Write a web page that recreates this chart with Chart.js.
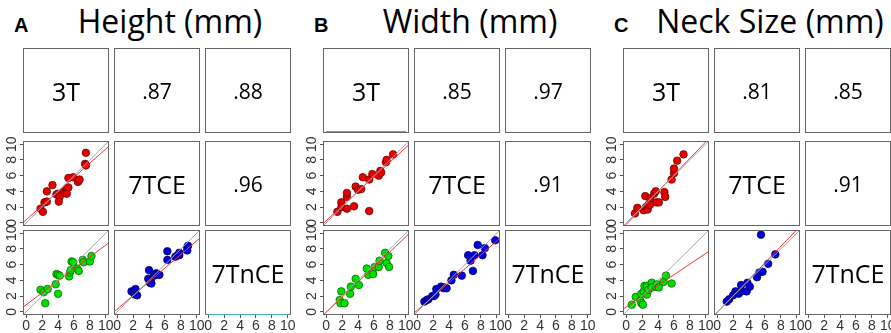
<!DOCTYPE html>
<html>
<head>
<title>Scatter matrices</title>
<script src="https://cdn.jsdelivr.net/npm/chart.js"></script>
<style>
  body { margin: 0; background: #fff; }
  #wrap { position: relative; width: 891px; height: 333px; overflow: hidden; }
  .cell { position: absolute; box-sizing: border-box; border: 1px solid #666;
          display: flex; align-items: center; justify-content: center;
          font-family: 'Open Sans', sans-serif; color: #000; }
  .name { font-size: 25px; }
  .cor { font-size: 21px; }
  .rug { position: absolute; left: 2px; right: 2px; bottom: 0; height: 1px; background: #4fb3ad; }
  .letter { position: absolute; font: bold 20px 'Liberation Sans', Arial, sans-serif; line-height: 20px; }
  .title { position: absolute; font: 32px 'Open Sans', sans-serif; line-height: 32px; white-space: nowrap;
           transform: translateX(-50%); }
  canvas { position: absolute; }
</style>
</head>
<body>
<div id="wrap"></div>
<script>
// panel titles and variable names
var letters = ['A', 'B', 'C'];
var titles = ['Height (mm)', 'Width (mm)', 'Neck Size (mm)'];
var varNames = ['3T', '7TCE', '7TnCE'];
var tickVals = [0, 2, 4, 6, 8, 10];

// correlations: (3T,7TCE), (3T,7TnCE), (7TCE,7TnCE)
var heightCor = ['.87', '.88', '.96'];
var widthCor = ['.85', '.97', '.91'];
var neckCor = ['.81', '.85', '.91'];

// Height: 7TCE vs 3T, 7TnCE vs 3T, 7TnCE vs 7TCE
var heightRedX = [1.8, 2.1, 2.3, 2.6, 2.6, 3.3, 3.8, 4.0, 4.2, 4.1, 4.7, 4.9, 5.1, 5.1, 5.3, 5.3, 5.9, 6.5, 6.7, 7.4, 7.5, 7.5];
var heightRedY = [1.8, 1.4, 2.6, 2.7, 4.0, 4.8, 3.6, 3.7, 3.3, 2.7, 4.0, 3.8, 4.4, 3.7, 4.5, 5.7, 5.8, 5.2, 5.5, 7.5, 7.3, 8.9];
var heightGreenX = [1.8, 2.2, 2.7, 2.4, 3.7, 3.8, 4.0, 4.2, 4.0, 5.4, 5.5, 5.6, 5.7, 5.9, 6.4, 6.6, 7.1, 7.2, 8.0, 8.2];
var heightGreenY = [2.8, 2.5, 2.9, 1.1, 3.5, 4.8, 4.7, 4.6, 2.3, 4.5, 5.0, 5.3, 6.4, 6.3, 5.5, 5.2, 6.6, 6.3, 6.4, 7.1];
var heightBlueX = [1.8, 2.1, 2.3, 2.2, 2.5, 4.0, 3.9, 4.2, 4.1, 4.3, 4.6, 4.9, 4.9, 5.3, 6.3, 6.3, 7.3, 7.6, 7.8, 7.8, 8.8, 8.8, 8.9];
var heightBlueY = [2.6, 2.4, 2.9, 2.2, 2.1, 5.3, 4.2, 4.0, 3.7, 3.6, 4.6, 4.9, 4.7, 4.7, 7.7, 6.6, 7.0, 7.2, 7.5, 7.2, 8.2, 7.8, 8.4];

// Width
var widthRedX = [1.4, 1.9, 1.9, 2.6, 2.6, 2.6, 3.5, 3.7, 4.0, 4.4, 4.6, 5.4, 5.4, 5.8, 6.6, 6.8, 6.9, 7.5, 7.6, 8.4];
var widthRedY = [1.4, 2.6, 2.0, 1.8, 3.3, 3.8, 2.1, 4.6, 4.2, 4.3, 5.8, 1.5, 5.5, 6.2, 6.0, 6.6, 6.4, 7.7, 8.0, 8.7];
var widthGreenX = [1.7, 1.8, 1.9, 2.3, 3.0, 3.1, 3.7, 4.1, 5.1, 5.3, 5.9, 6.1, 6.6, 6.7, 7.4, 7.6, 7.8, 7.9];
var widthGreenY = [1.5, 1.1, 2.6, 1.1, 2.3, 3.2, 4.2, 3.4, 5.5, 4.7, 4.8, 5.7, 5.7, 6.5, 7.5, 6.2, 7.1, 5.7];
var widthBlueX = [0.9, 1.2, 1.4, 1.9, 2.1, 2.3, 2.4, 3.0, 3.3, 3.4, 3.7, 4.3, 4.6, 5.6, 6.4, 6.7, 7.0, 7.2, 7.6, 8.2, 8.5, 9.8];
var widthBlueY = [1.3, 1.5, 1.6, 2.0, 2.0, 2.2, 2.9, 3.2, 3.0, 3.1, 3.0, 4.0, 4.7, 4.6, 7.2, 6.5, 5.2, 7.2, 8.5, 7.2, 8.1, 9.1];

// Neck size
var neckRedX = [1.1, 1.4, 2.2, 2.4, 2.5, 2.7, 2.8, 3.0, 3.0, 3.5, 3.7, 3.8, 4.1, 4.8, 4.9, 5.7, 6.0, 6.0, 6.4, 7.2];
var neckRedY = [1.2, 1.9, 1.6, 3.4, 2.0, 1.7, 2.3, 3.1, 2.3, 3.7, 4.0, 2.6, 2.6, 3.9, 3.3, 5.5, 6.3, 6.9, 7.9, 8.7];
var neckGreenX = [0.7, 1.2, 1.8, 1.9, 2.1, 1.9, 2.2, 2.3, 2.6, 2.6, 2.8, 3.2, 3.2, 3.7, 3.9, 4.1, 4.7, 5.0, 5.7];
var neckGreenY = [0.9, 1.9, 1.4, 1.1, 0.9, 2.3, 2.6, 3.3, 2.2, 3.3, 2.8, 3.7, 3.1, 3.2, 3.5, 3.1, 3.8, 4.6, 3.6];
var neckBlueX = [1.2, 1.5, 2.0, 2.3, 2.7, 3.0, 3.0, 3.7, 3.8, 4.1, 5.0, 5.3, 5.5, 5.7, 6.4, 7.3];
var neckBlueY = [1.3, 1.6, 2.1, 2.6, 2.3, 2.6, 3.4, 2.6, 3.7, 3.2, 4.4, 5.0, 9.8, 5.1, 6.1, 7.3];

// regression lines [intercept, slope], same order as the scatter cells
var heightFit = [[0.39, 0.90], [0.90, 0.76], [0.34, 0.87]];
var widthFit = [[0.27, 0.93], [-0.05, 0.96], [0.20, 0.88]];
var neckFit = [[-0.20, 1.05], [0.63, 0.68], [-0.07, 1.05]];

var panels = [
  { cor: heightCor, fit: heightFit, pts: [[heightRedX, heightRedY], [heightGreenX, heightGreenY], [heightBlueX, heightBlueY]] },
  { cor: widthCor, fit: widthFit, pts: [[widthRedX, widthRedY], [widthGreenX, widthGreenY], [widthBlueX, widthBlueY]] },
  { cor: neckCor, fit: neckFit, pts: [[neckRedX, neckRedY], [neckGreenX, neckGreenY], [neckBlueX, neckBlueY]] }
];

// diagonal cells that show a faint teal strip at the bottom (panel, index)
var rugCells = [[0, 2], [1, 0]];

// layout
var panelX = [0, 300, 600];
var colLeft = [23, 114, 205];
var rowTop = [48, 141, 230];
var boxW = 86, boxH = 85;
var axisL = 22, axisB = 17;
var M = 9; // spare room round each canvas so edge labels are not cut
var lo = -0.4, hi = 10.4;

var colors = [
  { fill: '#e60000', edge: '#5a0000' },
  { fill: '#00e000', edge: '#005a00' },
  { fill: '#0000d8', edge: '#00005a' }
];

var wrap = document.getElementById('wrap');

var boxPlugin = {
  id: 'box',
  afterDraw: function(chart) {
    var a = chart.chartArea, ctx = chart.ctx;
    ctx.save();
    ctx.strokeStyle = '#666';
    ctx.lineWidth = 1;
    ctx.strokeRect(Math.round(a.left) + 0.5, Math.round(a.top) + 0.5,
                   Math.round(a.right - a.left) - 1, Math.round(a.bottom - a.top) - 1);
    ctx.restore();
  }
};

function tickFont() { return { family: "'Liberation Sans', Arial, sans-serif", size: 14 }; }

function fitLine(b, m) {
  return [{ x: lo, y: b + m * lo }, { x: hi, y: b + m * hi }];
}

function noPad(s) {
  s.paddingLeft = 0; s.paddingRight = 0; s.paddingTop = 0; s.paddingBottom = 0;
}

function makeChart(p, r, c, datasets) {
  var L = c === 0 ? axisL : 0, B = r === 2 ? axisB : 0;
  var cv = document.createElement('canvas');
  cv.width = boxW + L + 2 * M; cv.height = boxH + B + 2 * M;
  cv.style.left = (panelX[p] + colLeft[c] - L - M) + 'px';
  cv.style.top = (rowTop[r] - M) + 'px';
  wrap.appendChild(cv);
  new Chart(cv.getContext('2d'), {
    type: 'scatter',
    data: { datasets: datasets },
    options: {
      responsive: false, animation: false, events: [],
      layout: { padding: M, autoPadding: false },
      plugins: { legend: { display: false }, tooltip: { enabled: false } },
      scales: {
        x: {
          type: 'linear', min: lo, max: hi, display: r === 2,
          afterBuildTicks: function(s) { s.ticks = tickVals.map(function(v) { return { value: v }; }); },
          afterFit: function(s) { s.height = B; noPad(s); },
          border: { display: false },
          grid: { drawOnChartArea: false, tickLength: 3, color: '#555' },
          ticks: { autoSkip: false, maxRotation: 0, padding: 0, color: '#333', font: tickFont() }
        },
        y: {
          type: 'linear', min: lo, max: hi, display: c === 0,
          afterBuildTicks: function(s) { s.ticks = tickVals.map(function(v) { return { value: v }; }); },
          afterFit: function(s) { s.width = L; noPad(s); },
          border: { display: false },
          grid: { drawOnChartArea: false, tickLength: 3, color: '#555' },
          ticks: { autoSkip: false, minRotation: 90, maxRotation: 90, crossAlign: 'center', padding: 0,
                   color: '#333', font: tickFont() }
        }
      }
    },
    plugins: [boxPlugin]
  });
}

function textCell(p, r, c, text, cls, border) {
  var d = document.createElement('div');
  d.className = 'cell ' + cls;
  d.style.left = (panelX[p] + colLeft[c]) + 'px';
  d.style.top = rowTop[r] + 'px';
  d.style.width = boxW + 'px';
  d.style.height = boxH + 'px';
  if (!border) d.style.border = 'none';
  d.textContent = text;
  wrap.appendChild(d);
  return d;
}

var scatterCells = [[1, 0], [2, 0], [2, 1]];
var corCells = [[0, 1], [0, 2], [1, 2]];

panels.forEach(function(panel, p) {
  var l = document.createElement('div');
  l.className = 'letter';
  l.textContent = letters[p];
  l.style.left = (panelX[p] + 14) + 'px';
  l.style.top = '15px';
  wrap.appendChild(l);

  var t = document.createElement('div');
  t.className = 'title';
  t.textContent = titles[p];
  t.style.left = (panelX[p] + 170) + 'px';
  t.style.top = '5px';
  wrap.appendChild(t);

  scatterCells.forEach(function(rc, k) {
    var xs = panel.pts[k][0], ys = panel.pts[k][1], f = panel.fit[k];
    makeChart(p, rc[0], rc[1], [
      { type: 'line', data: fitLine(0, 1), borderColor: '#a8a8a8', borderWidth: 1, pointRadius: 0 },
      { type: 'line', data: fitLine(f[0], f[1]), borderColor: '#ff3030', borderWidth: 1, pointRadius: 0 },
      { data: xs.map(function(x, i) { return { x: x, y: ys[i] }; }),
        backgroundColor: colors[k].fill, borderColor: colors[k].edge, borderWidth: 0.7, pointRadius: 3.8 }
    ]);
  });

  // the last diagonal cell carries the x axis
  makeChart(p, 2, 2, []);

  varNames.forEach(function(n, i) {
    var d = textCell(p, i, i, n, 'name', i !== 2);
    rugCells.forEach(function(rc) {
      if (rc[0] === p && rc[1] === i) {
        var s = document.createElement('div');
        s.className = 'rug';
        d.appendChild(s);
      }
    });
  });
  corCells.forEach(function(rc, k) {
    textCell(p, rc[0], rc[1], panel.cor[k], 'cor', true);
  });
});
</script>
</body>
</html>
